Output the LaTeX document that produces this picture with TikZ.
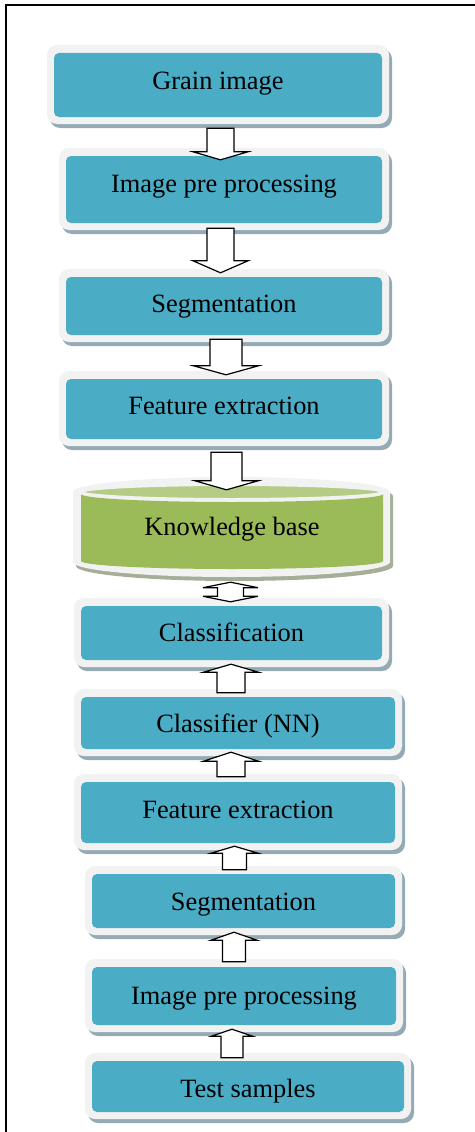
\documentclass[tikz,border=0pt]{standalone}
\usepackage{fontspec}
\setmainfont{Liberation Serif}
\usetikzlibrary{calc}
\definecolor{boxblue}{RGB}{75,172,198}
\definecolor{boxgrey}{RGB}{242,242,242}
\definecolor{boxshadow}{RGB}{148,170,180}
\definecolor{cangreen}{RGB}{155,187,89}
\definecolor{cantop}{RGB}{180,204,132}
\definecolor{canshadow}{RGB}{165,175,152}

\tikzset{
 boxinner/.style={fill=boxblue, rounded corners=5pt, inner sep=0pt, font=\fontsize{26.4}{30}\selectfont, text=black, text height=18pt, text depth=6pt},
 boxouter/.style={fill=boxgrey, rounded corners=10pt},
 boxshade/.style={fill=boxshadow, rounded corners=10pt},
 blockarrowstyle/.style={draw=black, fill=white, line width=1.2pt, line join=miter},
 frameline/.style={line width=1.6pt, draw=black},
 cantext/.style={inner sep=0pt, font=\fontsize{26.4}{30}\selectfont, text=black, text height=18pt, text depth=6pt}
}

% #1 name, #2 x1, #3 y1, #4 x2, #5 y2 (inner box, pixels), #6 text, #7 text shift down
\newcommand\flowbox[7]{%
 \fill[boxshade] ({#2-7+3},{#3-8+4}) rectangle ({#4+7+3},{#5+7+4});
 \fill[boxouter] ({#2-7},{#3-8}) rectangle ({#4+7},{#5+7});
 \node[boxinner, minimum width={(#4-#2)*1pt}, minimum height={(#5-#3)*1pt}] (#1) at ({(#2+#4)/2},{(#3+#5)/2}) {\raisebox{-#7pt}{#6}};
}

% #1 start, #2 tip, #3 shaft half width, #4 head half width, #5 head length
\newcommand\blockarrow[5]{%
 \coordinate (ba-s) at #1;
 \coordinate (ba-t) at #2;
 \coordinate (ba-h) at ($(ba-t)!#5pt!(ba-s)$);
 \draw[blockarrowstyle] ($(ba-s)!#3pt!90:(ba-t)$) -- ($(ba-h)!#3pt!-90:(ba-s)$) -- ($(ba-h)!#4pt!-90:(ba-s)$) -- (ba-t) -- ($(ba-h)!#4pt!90:(ba-s)$) -- ($(ba-h)!#3pt!90:(ba-s)$) -- ($(ba-s)!#3pt!-90:(ba-t)$) -- cycle;
}
% double-headed
\newcommand\blockdouble[5]{%
 \coordinate (bd-a) at #1;
 \coordinate (bd-b) at #2;
 \coordinate (bd-ha) at ($(bd-a)!#5pt!(bd-b)$);
 \coordinate (bd-hb) at ($(bd-b)!#5pt!(bd-a)$);
 \draw[blockarrowstyle] (bd-a) -- ($(bd-ha)!#4pt!90:(bd-b)$) -- ($(bd-ha)!#3pt!90:(bd-b)$) -- ($(bd-hb)!#3pt!-90:(bd-a)$) -- ($(bd-hb)!#4pt!-90:(bd-a)$) -- (bd-b) -- ($(bd-hb)!#4pt!90:(bd-a)$) -- ($(bd-hb)!#3pt!90:(bd-a)$) -- ($(bd-ha)!#3pt!-90:(bd-b)$) -- ($(bd-ha)!#4pt!-90:(bd-b)$) -- cycle;
}

\begin{document}
\begin{tikzpicture}[x=1pt,y=-1pt]
\useasboundingbox (0,0) rectangle (474,1132);
\draw[frameline] (6,1145) -- (6,5) -- (490,5);

\flowbox{b1}{54}{53}{382}{117}{Grain image}{-1.75}
\flowbox{b2}{66}{156}{382}{223}{Image pre processing}{-2.75}
\flowbox{b3}{66}{277}{382}{335}{Segmentation}{0.75}
\flowbox{b4}{66}{379}{382}{439}{Feature extraction}{-0.25}

% knowledge base cylinder
\fill[canshadow] (76,496) -- (76,566) arc[start angle=180,end angle=360,x radius=158.5pt,y radius=15pt] -- (393,496) arc[start angle=0,end angle=180,x radius=158.5pt,y radius=15pt] -- cycle;
\fill[boxgrey] (73,492) -- (73,562) arc[start angle=180,end angle=360,x radius=158.5pt,y radius=15pt] -- (390,492) arc[start angle=0,end angle=180,x radius=158.5pt,y radius=15pt] -- cycle;
\fill[cangreen] (81,494) -- (81,561) arc[start angle=180,end angle=360,x radius=151pt,y radius=8pt] -- (383,494) arc[start angle=360,end angle=180,x radius=151pt,y radius=8pt] -- cycle;
\filldraw[fill=cantop, draw=boxgrey, line width=3pt] (232,492) ellipse [x radius=151pt, y radius=7.5pt];
\node[cantext, minimum width=302pt, minimum height=77pt] (b5) at (232,530.5) {\raisebox{0.75pt}{Knowledge base}};

\flowbox{b6}{81}{606}{382}{660}{Classification}{2.25}
\flowbox{b7}{81}{697}{395}{749}{Classifier (NN)}{3.75}
\flowbox{b8}{81}{782}{395}{843}{Feature extraction}{0.25}
\flowbox{b9}{92}{874}{395}{928}{Segmentation}{3.25}
\flowbox{b10}{92}{967}{396}{1025}{Image pre processing}{2.25}
\flowbox{b11}{92}{1061}{404}{1112}{Test samples}{4.75}

% arrows
\blockarrow{([shift={(2.5,11)}]b1.south)}{([shift={(-3.5,4)}]b2.north)}{13.5}{27.5}{8}
\blockarrow{([shift={(-3.5,5)}]b2.south)}{([shift={(-3.5,-4)}]b3.north)}{13.5}{27.5}{12}
\blockarrow{([shift={(2,4)}]b3.south)}{([shift={(2,-4)}]b4.north)}{16}{32.5}{9}
\blockarrow{([shift={(2.5,13)}]b4.south)}{([shift={(-5.5,-2)}]b5.north)}{15.5}{31.5}{9}
\blockdouble{([shift={(-1.5,13)}]b5.south)}{([shift={(-1,-4)}]b6.north)}{13}{27.5}{5.5}
\blockarrow{([shift={(-7,-4)}]b7.north)}{([shift={(-0.5,4)}]b6.south)}{14}{27.5}{8}
\blockarrow{([shift={(-7,-5)}]b8.north)}{([shift={(-7,3)}]b7.south)}{14}{27.5}{9}
\blockarrow{([shift={(-9,-4)}]b9.north)}{([shift={(-3.5,3)}]b8.south)}{12}{23.5}{7}
\blockarrow{([shift={(-10,-5)}]b10.north)}{([shift={(-9.5,4)}]b9.south)}{11.5}{23}{8}
\blockarrow{([shift={(-16,-3)}]b11.north)}{([shift={(-12,4)}]b10.south)}{11}{20.5}{7}
\end{tikzpicture}
\end{document}
